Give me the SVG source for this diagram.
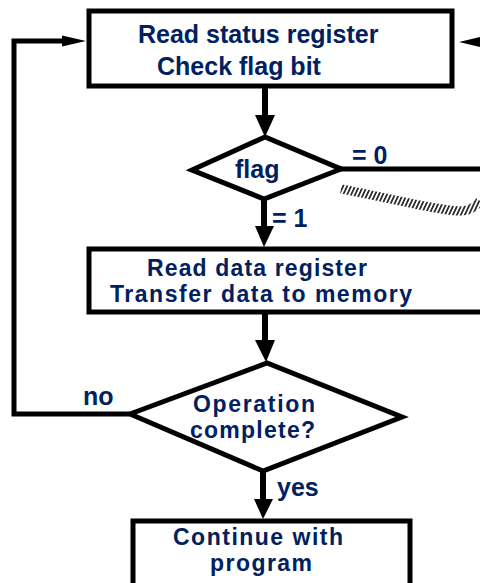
<svg xmlns="http://www.w3.org/2000/svg" width="480" height="583" viewBox="0 0 480 583">
  <style>
    .box { fill: #ffffff; stroke: #000000; stroke-width: 5; }
    .line { fill: none; stroke: #000000; stroke-width: 5; stroke-linejoin: miter; }
    .shaft { fill: none; stroke: #000000; stroke-width: 6; }
    .head { fill: #000000; stroke: none; }
    .t { font-family: "Liberation Sans", Arial, sans-serif; font-weight: bold; font-size: 25px; fill: #002060; }
    .t2 { font-family: "Liberation Sans", Arial, sans-serif; font-weight: bold; font-size: 23px; fill: #002060; }
  </style>
  <defs>
    <pattern id="hatch" patternUnits="userSpaceOnUse" width="3.6" height="12" patternTransform="rotate(25)">
      <rect x="0" y="0" width="1.8" height="12" fill="#2e2e2e"/>
    </pattern>
  </defs>
  <rect width="480" height="583" fill="#ffffff"/>

  <g id="connectors">
    <!-- top box to flag -->
    <line class="shaft" x1="265" y1="86" x2="265" y2="117"/>
    <polygon class="head" points="255,115 275,115 265,137"/>
    <!-- flag = 1 to data box -->
    <line class="shaft" x1="264" y1="199" x2="264" y2="227"/>
    <polygon class="head" points="255,226 274,226 264,247"/>
    <!-- flag = 0 to right -->
    <line class="line" x1="341" y1="169" x2="485" y2="169"/>
    <!-- hatched line -->
    <path d="M341,189 C390,198 438,211 462,211 Q473,210 480,201" fill="none" stroke="url(#hatch)" stroke-width="9"/>
    <!-- return arrow from right -->
    <polygon class="head" points="459,42 484,36 484,48"/>
    <!-- data box to operation -->
    <line class="shaft" x1="265" y1="312" x2="265" y2="342"/>
    <polygon class="head" points="255,340 275,340 266,362"/>
    <!-- yes -->
    <line class="shaft" x1="263" y1="471" x2="263" y2="500"/>
    <polygon class="head" points="254,499 273,499 263,519"/>
    <!-- no loop -->
    <path class="line" d="M130,414 H14 V41 H64"/>
    <polygon class="head" points="62,35.5 86,41 62,46.5"/>
  </g>

  <g id="node-status">
    <rect class="box" x="89" y="11" width="363" height="75"/>
    <text class="t" x="138" y="43">Read status register</text>
    <text class="t" x="157" y="75">Check flag bit</text>
  </g>

  <g id="node-flag">
    <polygon class="line" points="192,170 265,137 341,169 264,199"/>
    <text class="t" x="235" y="178">flag</text>
  </g>

  <g id="labels">
    <text class="t" x="352" y="164">= 0</text>
    <text class="t" x="272" y="227">= 1</text>
    <text class="t" x="83" y="405">no</text>
    <text class="t" x="277" y="496">yes</text>
  </g>

  <g id="node-data">
    <rect class="box" x="89" y="249" width="420" height="63"/>
    <text class="t2" x="147" y="276" textLength="220">Read data register</text>
    <text class="t2" x="110" y="302" textLength="302">Transfer data to memory</text>
  </g>

  <g id="node-operation">
    <polygon class="line" points="130,414 267,363 402,417 263,471"/>
    <text class="t2" x="193" y="412" textLength="122">Operation</text>
    <text class="t2" x="190" y="438" textLength="125">complete?</text>
  </g>

  <g id="node-continue">
    <rect class="box" x="133" y="521" width="277" height="70"/>
    <text class="t2" x="173" y="545" textLength="170">Continue with</text>
    <text class="t2" x="210" y="571" textLength="102">program</text>
  </g>
</svg>
